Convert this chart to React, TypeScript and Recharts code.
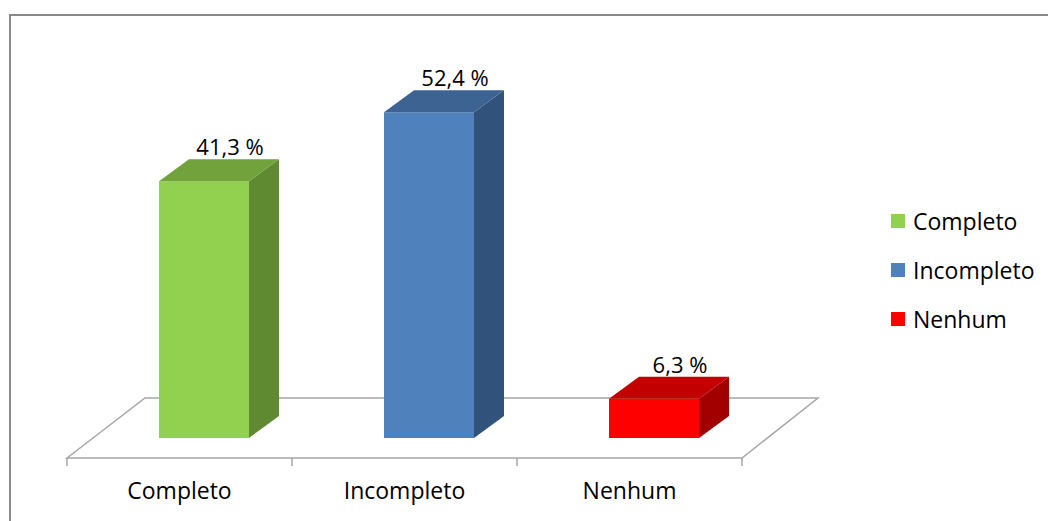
import * as Recharts from 'recharts'
import { Bar, BarChart, LabelList, Legend, XAxis, YAxis } from 'recharts'

const categories = ['Completo', 'Incompleto', 'Nenhum']
const percentages = [41.3, 52.4, 6.3]
const valueLabels = ['41,3 %', '52,4 %', '6,3 %']
const yDomain = [0, 60]

// front / side / top shades per category
const frontColors = ['#92D050', '#4F81BD', '#FF0000']
const sideColors = ['#5F8A31', '#31527B', '#A20000']
const topColors = ['#71A23B', '#3C6391', '#C20000']

const data = categories.map((category, i) => ({ category, value: percentages[i], label: valueLabels[i] }))

const W = 1048
const H = 521
const MARGIN = { top: 65, right: 306, bottom: 30, left: 67 }
const X_AXIS_HEIGHT = 53
const SHIFT = 24 // bar sits mid-depth on the floor
const DX = 30
const DY = 22
const FONT = '"Open Sans", sans-serif'

const usePlotAreaSafe: () => any = (Recharts as any).usePlotArea ?? (() => null)

function Floor() {
  const area = usePlotAreaSafe() ?? {
    x: MARGIN.left,
    y: MARGIN.top,
    width: W - MARGIN.left - MARGIN.right,
    height: H - MARGIN.top - MARGIN.bottom - X_AXIS_HEIGHT,
  }
  const left = area.x
  const right = area.x + area.width
  const base = area.y + area.height
  const front = base + 20
  const back = base - 40
  const step = area.width / categories.length
  return (
    <g>
      <path d={`M10,${H} V15 H${W}`} fill="none" stroke="#8a8a8a" strokeWidth={2} />
      <polygon
        points={`${left},${front} ${left + 78},${back} ${right + 76},${back} ${right},${front}`}
        fill="#fff"
        stroke="#a6a6a6"
        strokeWidth={1.5}
      />
      {Array.from({ length: categories.length + 1 }, (_, i) => (
        <line key={i} x1={left + i * step} x2={left + i * step} y1={front} y2={front + 8} stroke="#a6a6a6" strokeWidth={1.5} />
      ))}
    </g>
  )
}

function Box3D(props: any) {
  const { x, y, width, height, payload } = props
  const i = categories.indexOf(payload.category)
  const fx = x + SHIFT
  const bottom = y + height
  return (
    <g>
      <rect x={fx} y={y} width={width} height={height} fill={frontColors[i]} />
      <polygon
        points={`${fx + width},${y} ${fx + width + DX},${y - DY} ${fx + width + DX},${bottom - DY} ${fx + width},${bottom}`}
        fill={sideColors[i]}
      />
      <polygon
        points={`${fx},${y} ${fx + DX},${y - DY} ${fx + width + DX},${y - DY} ${fx + width},${y}`}
        fill={topColors[i]}
      />
    </g>
  )
}

function ValueLabel(props: any) {
  const { x, y, width, index } = props
  return (
    <text x={x + SHIFT + width / 2 + DX - 4} y={y - DY - 4} textAnchor="middle" fontSize={22} fontFamily={FONT} fill="#000">
      {valueLabels[index]}
    </text>
  )
}

function CategoryTick(props: any) {
  const { x, y, payload } = props
  return (
    <text x={x} y={y + 53} textAnchor="middle" fontSize={23} fontFamily={FONT} fill="#000">
      {payload.value}
    </text>
  )
}

function LegendBox() {
  return (
    <div style={{ fontFamily: FONT, fontSize: 23, color: '#000' }}>
      {categories.map((c, i) => (
        <div key={c} style={{ display: 'flex', alignItems: 'center', height: 49 }}>
          <span style={{ width: 14, height: 14, background: frontColors[i], marginRight: 8 }} />
          <span>{c}</span>
        </div>
      ))}
    </div>
  )
}

export default function App() {
  return (
    <div style={{ width: W, height: H, background: '#fff' }}>
      <style>{'body{margin:0;overflow:hidden}'}</style>
      <BarChart width={W} height={H} data={data} margin={MARGIN}>
        <Floor />
        <XAxis dataKey="category" axisLine={false} tickLine={false} height={X_AXIS_HEIGHT} tick={<CategoryTick />} interval={0} />
        <YAxis hide domain={yDomain} />
        <Legend
          verticalAlign="middle"
          content={<LegendBox />}
          wrapperStyle={{ position: 'absolute', left: 891, top: 196, width: 160 }}
        />
        <Bar dataKey="value" barSize={90} shape={<Box3D />} isAnimationActive={false}>
          <LabelList dataKey="label" content={<ValueLabel />} />
        </Bar>
      </BarChart>
    </div>
  )
}
